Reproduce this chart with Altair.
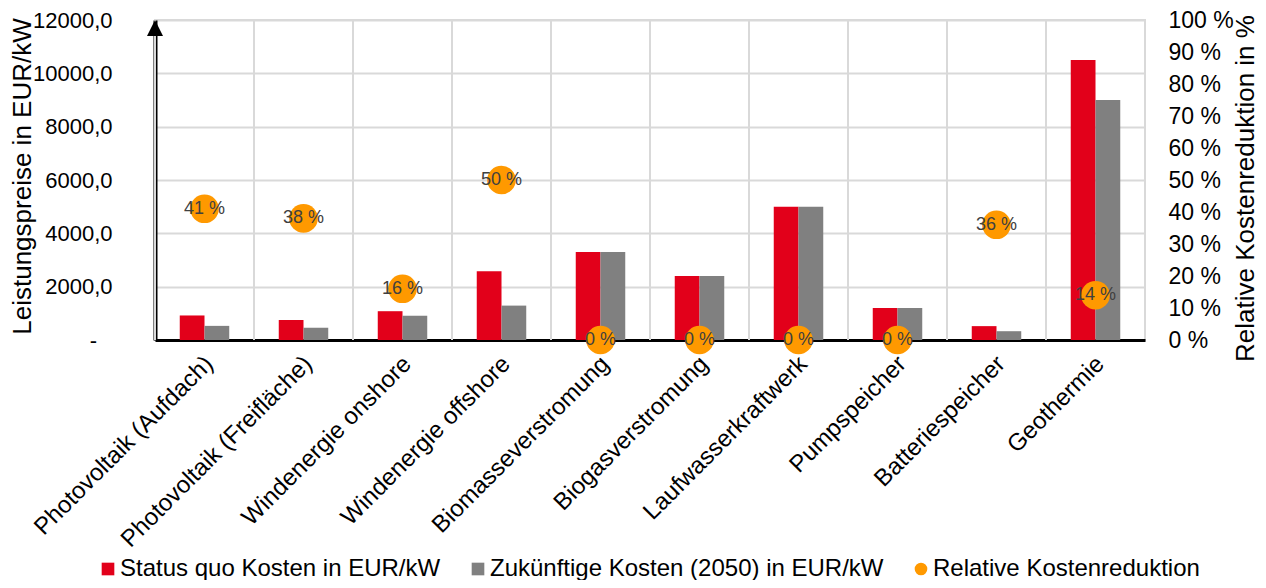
import altair as alt
import pandas as pd

# ---- data ----
categories = [
    "Photovoltaik (Aufdach)",
    "Photovoltaik (Freifläche)",
    "Windenergie onshore",
    "Windenergie offshore",
    "Biomasseverstromung",
    "Biogasverstromung",
    "Laufwasserkraftwerk",
    "Pumpspeicher",
    "Batteriespeicher",
    "Geothermie",
]
status_quo = [920, 750, 1080, 2580, 3300, 2400, 5000, 1200, 520, 10500]
future_2050 = [530, 460, 910, 1290, 3300, 2400, 5000, 1200, 330, 9000]
reduction_pct = [41, 38, 16, 50, 0, 0, 0, 0, 36, 14]

series_names = [
    "Status quo Kosten in EUR/kW",
    "Zukünftige Kosten (2050) in EUR/kW",
    "Relative Kostenreduktion",
]
series_colors = ["#E2001A", "#808080", "#FF9900"]
series_shapes = ["square", "square", "circle"]

FONT = "Liberation Sans"

bars_df = pd.DataFrame(
    {
        "cat": categories * 2,
        "series": [series_names[0]] * len(categories) + [series_names[1]] * len(categories),
        "value": status_quo + future_2050,
    }
)
pct_df = pd.DataFrame(
    {
        "cat": categories,
        "series": [series_names[2]] * len(categories),
        "pct": [p / 100 for p in reduction_pct],
        "label": [f"{p} %" for p in reduction_pct],
    }
)
cat_df = pd.DataFrame({"cat": categories})

x_scale = alt.Scale(domain=categories, paddingInner=0, paddingOuter=0)
color_scale = alt.Scale(domain=series_names, range=series_colors)
shape_scale = alt.Scale(domain=series_names, range=series_shapes)

legend = alt.Legend(
    title=None,
    orient="none",
    direction="horizontal",
    legendX=-59,
    legendY=537,
    padding=0,
    symbolSize=160,
    symbolStrokeWidth=0,
    symbolOpacity=1,
    labelFont=FONT,
    labelFontSize=24,
    labelColor="#000000",
    labelOffset=0,
    labelLimit=600,
    columnPadding=25,
)

left_axis = alt.Axis(
    title="Leistungspreise in EUR/kW",
    titleFont=FONT,
    titleFontSize=26,
    titleFontWeight="normal",
    titleColor="#000000",
    titleAngle=270,
    titleX=-125,
    titleY=156,
    titleAlign="center",
    titleBaseline="alphabetic",
    values=[0, 2000, 4000, 6000, 8000, 10000, 12000],
    labelExpr="datum.value == 0 ? '-\u2002\u2009\u2060' : replace(format(datum.value, '.1f'), '.', ',')",
    labelFont=FONT,
    labelFontSize=22,
    labelColor="#000000",
    labelPadding=43,
    ticks=False,
    domain=True,
    domainColor="#000000",
    domainWidth=4,
    grid=True,
    gridColor="#d9d9d9",
    gridWidth=2,
)

right_axis = alt.Axis(
    title="Relative Kostenreduktion in %",
    orient="right",
    titleFont=FONT,
    titleFontSize=26,
    titleFontWeight="normal",
    titleColor="#000000",
    titleAngle=270,
    titleX=108,
    titleY=168,
    titleAlign="center",
    titleBaseline="alphabetic",
    values=[i / 10 for i in range(11)],
    labelExpr="round(datum.value * 100) + ' %'",
    labelFont=FONT,
    labelFontSize=23,
    labelColor="#000000",
    labelPadding=23,
    ticks=False,
    domain=False,
    grid=False,
)

x_axis = alt.Axis(
    title=None,
    labelAngle=315,
    labelAlign="right",
    labelBaseline="middle",
    labelFont=FONT,
    labelFontSize=24,
    labelColor="#000000",
    labelPadding=20,
    labelOffset=5,
    ticks=False,
    domain=True,
    domainColor="#000000",
    domainWidth=3,
    grid=False,
    labelLimit=400,
)

vgrid = alt.Chart(cat_df).mark_rule(color="#d9d9d9", strokeWidth=2).encode(
    x=alt.X("cat:N", scale=x_scale, bandPosition=0, axis=x_axis)
)

bars = alt.Chart(bars_df).mark_bar().encode(
    x=alt.X("cat:N", scale=x_scale, axis=x_axis),
    xOffset=alt.XOffset(
        "series:N",
        scale=alt.Scale(domain=series_names[:2], paddingOuter=1, paddingInner=0),
    ),
    y=alt.Y("value:Q", scale=alt.Scale(domain=[0, 12000], nice=False), axis=left_axis),
    color=alt.Color("series:N", scale=color_scale, legend=legend),
)

y_pct = alt.Y("pct:Q", scale=alt.Scale(domain=[0, 1], nice=False), axis=right_axis)

circles = alt.Chart(pct_df).mark_point(filled=True, opacity=1, size=820).encode(
    x=alt.X("cat:N", scale=x_scale, axis=x_axis),
    y=y_pct,
    color=alt.Color("series:N", scale=color_scale, legend=legend),
    shape=alt.Shape("series:N", scale=shape_scale, legend=legend),
)
labels = alt.Chart(pct_df).mark_text(
    font=FONT, fontSize=18, color="#404040", align="center", baseline="middle"
).encode(
    x=alt.X("cat:N", scale=x_scale, axis=x_axis),
    y=y_pct,
    text="label:N",
)

arrow = alt.Chart(pd.DataFrame({"a": [0]})).mark_point(
    shape="M0,-1L1,1L-1,1Z", filled=True, color="#000000", opacity=1, size=256
).encode(x=alt.value(0), y=alt.value(8))

chart = (
    alt.layer(vgrid, bars, alt.layer(circles, labels), arrow)
    .resolve_scale(y="independent")
    .properties(
        width=990,
        height=320,
        autosize=alt.AutoSizeParams(type="none"),
        padding={"left": 147, "top": 12, "right": 113, "bottom": 240},
    )
    .configure_view(stroke="#d9d9d9", strokeWidth=2)
    .configure_axisLeft(domainWidth=4, domainColor="#000000")
    .configure_axisBottom(domainWidth=3, domainColor="#000000")
)

chart.save("out.html", embed_options={"renderer": "svg", "actions": False})
